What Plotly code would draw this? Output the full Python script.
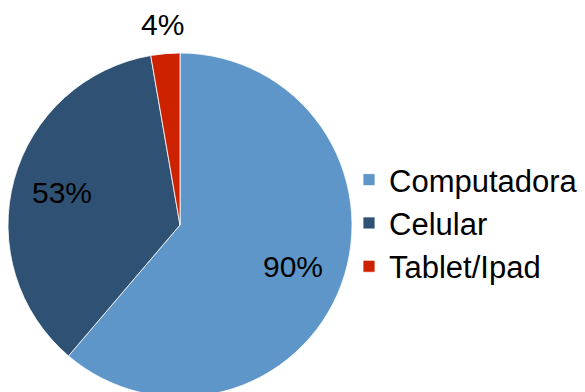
import math
import plotly.graph_objects as go

# Device usage shares
categories = ["Computadora", "Celular", "Tablet/Ipad"]
values = [90, 53, 4]
colors = ["#5F96C9", "#2F5274", "#CC2200"]
label_radius = [0.70, 0.71, 1.17]  # label distance from centre, as fraction of radius

labels_text = [f"{v}%" for v in values]

W, H = 585, 397
FONT = "Liberation Sans, Arial, sans-serif"

dom_x = [8 / W, 352 / W]
dom_y = [0, (H - 53) / H]

fig = go.Figure(
    go.Pie(
        labels=categories,
        values=values,
        textinfo="none",
        marker=dict(colors=colors, line=dict(color="#FFFFFF", width=0.8)),
        sort=False,
        direction="clockwise",
        rotation=0,
        hoverinfo="label+value",
        domain=dict(x=dom_x, y=dom_y),
    )
)

# value labels placed at each slice's mid-angle
cx = (dom_x[0] + dom_x[1]) / 2 * W
cy = (dom_y[0] + dom_y[1]) / 2 * H
r = min((dom_x[1] - dom_x[0]) * W, (dom_y[1] - dom_y[0]) * H) / 2
total = sum(values)
cum = 0
for v, txt, k in zip(values, labels_text, label_radius):
    mid = (cum + v / 2) / total * 2 * math.pi
    cum += v
    px = cx + k * r * math.sin(mid)
    py = cy + k * r * math.cos(mid)
    fig.add_annotation(
        x=px / W, y=py / H, xref="paper", yref="paper",
        text=txt, showarrow=False,
        xanchor="center", yanchor="middle",
        font=dict(family=FONT, size=30, color="#000000"),
    )

fig.update_layout(
    width=W,
    height=H,
    margin=dict(l=0, r=0, t=0, b=0),
    paper_bgcolor="#FFFFFF",
    plot_bgcolor="#FFFFFF",
    showlegend=True,
    legend=dict(
        x=349 / W,
        y=(H - 223) / H,
        xanchor="left",
        yanchor="middle",
        font=dict(family=FONT, size=31, color="#000000"),
        bgcolor="rgba(0,0,0,0)",
        borderwidth=0,
    ),
)

fig.write_html(
    "out.html",
    post_script="document.documentElement.style.overflow='hidden';document.body.style.overflow='hidden';document.body.style.margin='0';",
)
